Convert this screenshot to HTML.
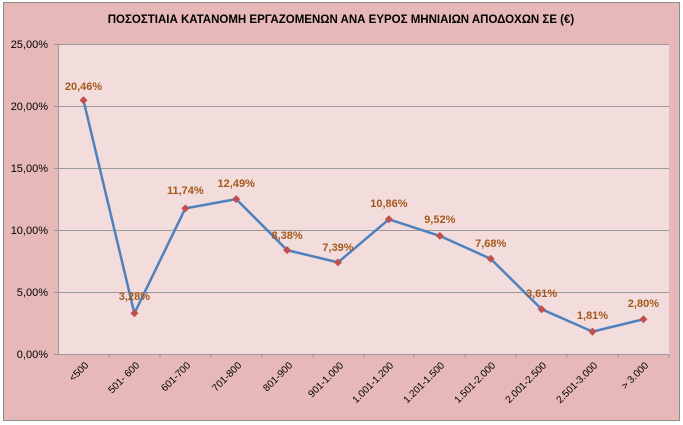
<!DOCTYPE html>
<html><head><meta charset="utf-8"><style>
body{margin:0;background:#fff}
svg{display:block;font-family:"Liberation Sans","DejaVu Sans",sans-serif}
</style></head><body>
<svg width="683" height="425" viewBox="0 0 683 425">
<rect x="3.5" y="2.5" width="676" height="418" fill="#e6b9b8" stroke="#8c8c8c"/>
<text x="341" y="23" text-anchor="middle" font-size="11.5" font-weight="bold" fill="#000">ΠΟΣΟΣΤΙΑΙΑ ΚΑΤΑΝΟΜΗ ΕΡΓΑΖΟΜΕΝΩΝ ΑΝΑ ΕΥΡΟΣ ΜΗΝΙΑΙΩΝ ΑΠΟΔΟΧΩΝ ΣΕ (€)</text>
<rect x="58" y="44" width="611" height="310" fill="#f2dddc"/>
<g stroke="#9a9a9a" stroke-width="1">
<line x1="54" y1="44.5" x2="669" y2="44.5"/>
<line x1="54" y1="106.5" x2="669" y2="106.5"/>
<line x1="54" y1="168.5" x2="669" y2="168.5"/>
<line x1="54" y1="230.5" x2="669" y2="230.5"/>
<line x1="54" y1="292.5" x2="669" y2="292.5"/>
<line x1="54" y1="354.5" x2="669" y2="354.5"/>
<line x1="58.5" y1="44" x2="58.5" y2="354"/>
</g>
<g font-size="11" fill="#000" text-anchor="end">
<text x="48" y="48">25,00%</text>
<text x="48" y="110">20,00%</text>
<text x="48" y="172">15,00%</text>
<text x="48" y="234">10,00%</text>
<text x="48" y="296">5,00%</text>
<text x="48" y="358">0,00%</text>
</g>
<g stroke="#9a9a9a">
<line x1="109" y1="354" x2="109" y2="358"/><line x1="160" y1="354" x2="160" y2="358"/>
<line x1="211" y1="354" x2="211" y2="358"/><line x1="262" y1="354" x2="262" y2="358"/>
<line x1="313" y1="354" x2="313" y2="358"/><line x1="364" y1="354" x2="364" y2="358"/>
<line x1="414" y1="354" x2="414" y2="358"/><line x1="465" y1="354" x2="465" y2="358"/>
<line x1="516" y1="354" x2="516" y2="358"/><line x1="567" y1="354" x2="567" y2="358"/>
<line x1="618" y1="354" x2="618" y2="358"/><line x1="669" y1="354" x2="669" y2="358"/>
</g>
<g font-size="10" fill="#000" text-anchor="end">
<text transform="translate(89,366) rotate(-45)">&lt;500</text>
<text transform="translate(140,366) rotate(-45)">501- 600</text>
<text transform="translate(191,366) rotate(-45)">601-700</text>
<text transform="translate(242,366) rotate(-45)">701-800</text>
<text transform="translate(293,366) rotate(-45)">801-900</text>
<text transform="translate(344,366) rotate(-45)">901-1.000</text>
<text transform="translate(394,366) rotate(-45)">1.001-1.200</text>
<text transform="translate(445,366) rotate(-45)">1.201-1.500</text>
<text transform="translate(496,366) rotate(-45)">1.501-2.000</text>
<text transform="translate(547,366) rotate(-45)">2.001-2.500</text>
<text transform="translate(598,366) rotate(-45)">2.501-3.000</text>
<text transform="translate(649,366) rotate(-45)">&gt; 3.000</text>
</g>
<polyline fill="none" stroke="#4f81bd" stroke-width="2.5" stroke-linejoin="round"
points="83.5,100.3 134.4,313.3 185.3,208.4 236.2,199.1 287.1,250.1 338,262.4 388.9,219.3 439.8,235.9 490.7,258.8 541.6,309.2 592.5,331.6 643.4,319.3"/>
<g fill="#c0504d">
<path d="M83.5 96.3l4 4-4 4-4-4z"/><path d="M134.4 309.3l4 4-4 4-4-4z"/>
<path d="M185.3 204.4l4 4-4 4-4-4z"/><path d="M236.2 195.1l4 4-4 4-4-4z"/>
<path d="M287.1 246.1l4 4-4 4-4-4z"/><path d="M338 258.4l4 4-4 4-4-4z"/>
<path d="M388.9 215.3l4 4-4 4-4-4z"/><path d="M439.8 231.9l4 4-4 4-4-4z"/>
<path d="M490.7 254.8l4 4-4 4-4-4z"/><path d="M541.6 305.2l4 4-4 4-4-4z"/>
<path d="M592.5 327.6l4 4-4 4-4-4z"/><path d="M643.4 315.3l4 4-4 4-4-4z"/>
</g>
<g font-size="11" font-weight="bold" fill="#a5581c" text-anchor="middle">
<text x="83.5" y="90">20,46%</text>
<text x="134.4" y="300">3,28%</text>
<text x="185.3" y="194">11,74%</text>
<text x="236.2" y="187">12,49%</text>
<text x="287.1" y="239">8,38%</text>
<text x="338" y="251">7,39%</text>
<text x="388.9" y="207">10,86%</text>
<text x="439.8" y="223">9,52%</text>
<text x="490.7" y="247">7,68%</text>
<text x="541.6" y="297">3,61%</text>
<text x="592.5" y="319">1,81%</text>
<text x="643.4" y="307">2,80%</text>
</g>
</svg>
</body></html>
